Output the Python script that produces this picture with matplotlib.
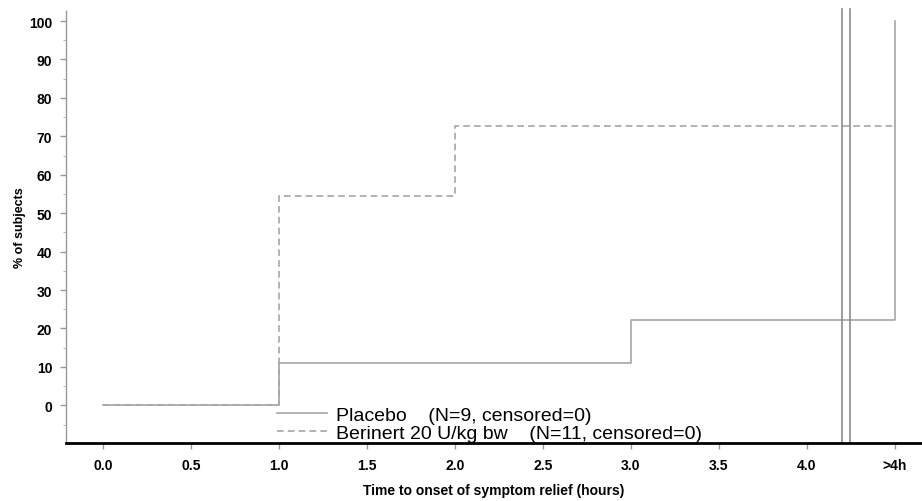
import numpy as np
import matplotlib.pyplot as plt
from matplotlib.ticker import MultipleLocator

plt.rcParams['font.family'] = ['Liberation Sans', 'DejaVu Sans']

# ---------------- data ----------------
placebo_t = [0.0, 1.0, 3.0, 4.5]
placebo_pct = [0.0, 11.1, 22.2, 100.0]

berinert_t = [0.0, 1.0, 2.0, 4.5]
berinert_pct = [0.0, 54.5, 72.7, 72.7]

x_ticks = [0.0, 0.5, 1.0, 1.5, 2.0, 2.5, 3.0, 3.5, 4.0, 4.5]
x_labels = ["0.0", "0.5", "1.0", "1.5", "2.0", "2.5", "3.0", "3.5", "4.0", ">4h"]
y_ticks = list(range(0, 101, 10))

break_marks = [4.2, 4.245]

placebo_label = "Placebo    (N=9, censored=0)"
berinert_label = "Berinert 20 U/kg bw    (N=11, censored=0)"

# ---------------- figure ----------------
fig = plt.figure(figsize=(9.22, 5.02), dpi=100)
ax = fig.add_axes([0.0716, 0.1155, 0.9284, 0.8605])

line_col = "#a6a6a6"
ax.plot(placebo_t, placebo_pct, drawstyle="steps-post", color=line_col,
        lw=1.2, label=placebo_label)
ax.plot(berinert_t, berinert_pct, drawstyle="steps-post", color=line_col,
        lw=1.2, ls=(0, (4, 2.5)), label=berinert_label)

for xb in break_marks:
    ax.plot([xb, xb], [-9.8, 103.2], color="#8c8c8c", lw=1.2, clip_on=False)

ax.set_xlim(-0.21, 4.655)

ax.set_xticks(x_ticks)
ax.set_xticklabels(x_labels, fontsize=10, fontweight="bold")
ax.set_yticks(y_ticks)
ax.set_yticklabels([str(v) for v in y_ticks], fontsize=10, fontweight="bold")
ax.yaxis.set_minor_locator(MultipleLocator(5))
ax.set_ylim(-9.8, 102.6)

ax.tick_params(axis="both", which="major", color="#999999", length=4, width=1)
ax.tick_params(axis="y", which="minor", color="#bbbbbb", length=2.5, width=0.8)
ax.tick_params(axis="x", pad=7)
ax.tick_params(axis="y", pad=6)

for s in ["top", "right"]:
    ax.spines[s].set_visible(False)
ax.spines["left"].set_color("#999999")
ax.spines["left"].set_linewidth(1.0)
ax.spines["bottom"].set_color("black")
ax.spines["bottom"].set_linewidth(2.0)

ax.set_xlabel("Time to onset of symptom relief (hours)", fontsize=10,
              fontweight="bold", labelpad=8)
ax.set_ylabel("% of subjects", fontsize=9, fontweight="bold", labelpad=2)

leg = ax.legend(loc="lower left", bbox_to_anchor=(0.246, 0.003), frameon=False,
                fontsize=14, handlelength=2.6, handletextpad=0.45,
                labelspacing=0.0, borderpad=0.0, borderaxespad=0.0)

fig.savefig("out.png", dpi=100)
